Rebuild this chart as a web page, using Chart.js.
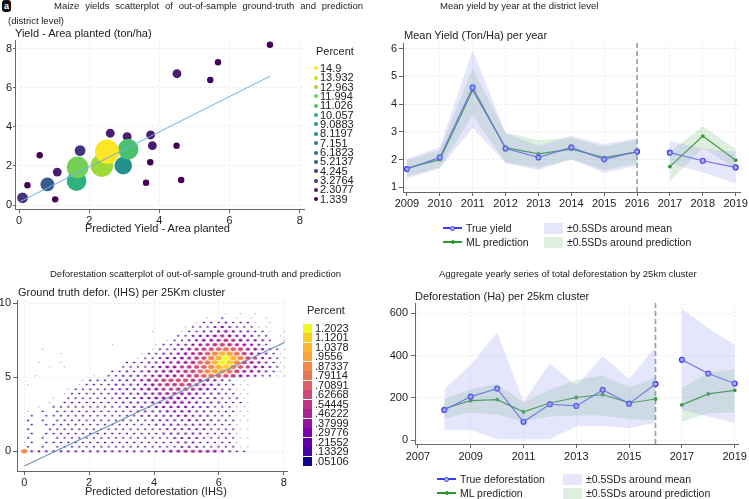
<!DOCTYPE html>
<html>
<head>
<meta charset="utf-8">
<script src="https://cdn.jsdelivr.net/npm/chart.js@4.4.0/dist/chart.umd.min.js"></script>
<style>
body { margin: 0; background: #fff; font-family: "Liberation Sans", Arial, sans-serif; color: #222; }
#wrap { position: relative; width: 749px; height: 499px; overflow: hidden; }
canvas { position: absolute; }
.t { position: absolute; white-space: nowrap; line-height: 1; }
.ttl { font-size: 9.5px; }
.ax { font-size: 11px; }
.lg { font-size: 10.5px; }
.dot { position: absolute; width: 4px; height: 4px; border-radius: 50%; }
.sq { position: absolute; width: 9px; height: 9px; }
</style>
</head>
<body>
<div id="wrap">
  <canvas id="c1" style="left:0;top:0" width="375" height="250"></canvas>
  <canvas id="c2" style="left:375px;top:0" width="374" height="250"></canvas>
  <canvas id="c3" style="left:0;top:250px" width="375" height="249"></canvas>
  <canvas id="c4" style="left:375px;top:250px" width="374" height="249"></canvas>

  <div class="t" style="left:2px;top:0;width:9px;height:12px;background:#111;color:#fff;border-radius:3px;font-size:9px;font-weight:bold;text-align:center;line-height:12px">a</div>
  <div class="t ttl" style="left:54px;top:1px;width:309px;text-align:justify;text-align-last:justify;white-space:normal">Maize yields scatterplot of out-of-sample ground-truth and prediction</div>
  <div class="t ttl" style="left:8px;top:16px">(district level)</div>
  <div class="t ax" style="left:15px;top:28px">Yield - Area planted (ton/ha)</div>
  <div class="t ax" style="left:85px;top:223px">Predicted Yield - Area planted</div>
  <div class="t ax" style="left:316px;top:46px">Percent</div>

  <div class="t ttl" style="left:440px;top:1px">Mean yield by year at the district level</div>
  <div class="t ax" style="left:404px;top:30px">Mean Yield (Ton/Ha) per year</div>

  <div class="t ttl" style="left:50px;top:269px">Deforestation scatterplot of out-of-sample ground-truth and prediction</div>
  <div class="t ax" style="left:18px;top:287px">Ground truth defor. (IHS) per 25Km cluster</div>
  <div class="t ax" style="left:85px;top:486px">Predicted deforestation (IHS)</div>
  <div class="t ax" style="left:307px;top:305px">Percent</div>

  <div class="t ttl" style="left:439px;top:269px">Aggregate yearly series of total deforestation by 25km cluster</div>
  <div class="t ax" style="left:415px;top:291px">Deforestation (Ha) per 25km cluster</div>
</div>
<script>
// ---------- panel a: maize yield bubbles ----------
const yldPredX = [7.15,5.67,5.45,4.49,0.59,3.74,0.24,3.62,4.62,1.03, 4.50,2.60,3.08,3.75,3.80,1.09, 1.74,0.10, 0.81, 2.97, 1.64, 3.11, 1.67, 2.36, 2.51];
const yldTrueY = [8.22,7.32,6.41,3.04,2.55,2.19,1.01,1.14,1.28,0.29, 6.73,3.68,3.50,3.59,3.04,1.69, 2.79,0.37, 1.06, 2.02, 1.23, 2.86, 1.93, 2.02, 2.73];
const yldPct   = [1.339,1.339,1.339,1.339,1.339,1.339,1.339,1.339,1.339,1.339,
                  2.3077,2.3077,2.3077,2.3077,2.3077,2.3077, 3.2764,3.2764, 5.2137, 8.1197, 10.057, 11.026, 11.994, 12.963, 14.9];
const yldFitX = [0.03, 7.15];
const yldFitY = [0.17, 6.60];
const yldLevels = [14.9,13.932,12.963,11.994,11.026,10.057,9.0883,8.1197,7.151,6.1823,5.2137,4.245,3.2764,2.3077,1.339];
const yldLevelLabels = ["14.9","13.932","12.963","11.994","11.026","10.057","9.0883","8.1197","7.151","6.1823","5.2137","4.245","3.2764","2.3077","1.339"];
const yldColors = ["#fde725","#d0e11c","#a0da39","#73d056","#4ac16d","#2db27d","#1fa187","#21918c","#277f8e","#2e6e8e","#365c8d","#3f4788","#46327e","#481c6e","#440154"];

// ---------- panel b: mean yield by year ----------
const yrsYield  = [2009,2010,2011,2012,2013,2014,2015,2016,2017,2018,2019];
const trueYield = [1.66,2.08,4.60,2.40,2.08,2.44,2.01,2.29,2.25,1.96,1.72];
const mlYield   = [1.70,2.00,4.50,2.43,2.21,2.38,2.07,2.28,1.75,2.85,1.98];
const trueYHi   = [2.03,2.45,5.94,2.95,2.50,2.85,2.55,2.78,2.67,2.40,2.28];
const trueYLo   = [1.32,1.69,3.15,1.87,1.63,2.02,1.52,1.78,1.85,1.55,1.15];
const mlYHi     = [1.98,2.35,5.27,2.98,2.70,2.78,2.47,2.72,2.28,3.20,2.38];
const mlYLo     = [1.40,1.72,3.60,1.90,1.72,2.00,1.63,1.86,1.22,2.42,1.68];

// ---------- panel c: deforestation hexbin (levels 1..f = legend bins, . = empty) ----------
// one string per bin row from y=0 upwards, blocks of 5 bins separated by spaces
const hexDx = 0.226, hexDy = 0.3;   // bin grid in IHS units, odd rows shifted half a bin
const hexRows = [
  "b3333 33333 33333 33334 55666 65432 2",
  "2.2.2 22222 22222 22222 23332 22221 1",
  "12.22 22222 22222 22222 23332 22221",
  "2.2.2 22222 22222 22222 33332 22221 1",
  ".2.22 22222 22222 22223 33333 22221",
  "2..22 22222 22222 22223 33333 22221 1",
  ".2.22 22222 22222 22233 33333 32221",
  "2.2.2 22222 22222 22333 33433 32221 1",
  ".2.22 22222 22222 23333 34433 32221 1",
  "1.2.2 22222 22222 33334 44433 32221 1",
  "..1.2 22222 22223 33344 44433 32221 1",
  "...1. 22222 22233 33445 55443 33222 1",
  "....1 .2222 22233 34455 55443 33222 1",
  "..... 12222 22333 34456 65543 33221 1",
  "..... .1222 22333 34556 67765 43221 1",
  "1.... ..122 22333 34567 78765 43221 1",
  "..... ...12 22233 34567 88876 54321 1",
  ".1... ....1 .2233 33455 56789 a9875 43221 1",
  "..... ..... ..223 23445 56789 bcca8 65432 1",
  "...1. 1.... ...22 22345 56789 bdeb9 65432 1",
  "..1.. 1.... ....2 22334 45679 adfeb 86432 1",
  "..... ..... ..... 12234 45678 bdfdb 86432 1",
  "..... 1.... ..... .1223 34567 9bdca 75432 11",
  "..1.. ..... ..... ..122 34567 89a98 65432 1",
  "..... ..... ..1.. ...12 23345 67876 5432. 1",
  "..... ..... ..... ....1 22345 56765 4432. 1",
  "..... ..... ..... ..... .2234 45654 4322. 11",
  "..... ..... ..... ..1.. .1223 34543 3221. 1",
  "..... ..... ..... ..... ..122 23432 2211.",
  "..... ..... ..... ..... ...12 22322 21.1.",
  "..... ..... ..... ..... ..... 1.2.1 .1.1.",
  "..... ..... ..... ..... ..... ..1.1 .1..."
];
const defFitX = [0, 8.03];
const defFitY = [-1.0, 7.36];
const defLevelLabels = ["1.2023","1.1201","1.0378",".9556",".87337",".79114",".70891",".62668",".54445",".46222",".37999",".29776",".21552",".13329",".05106"];
const defColors = ["#f0f921","#fccf25","#fdb42f","#fba238","#f48849","#e97557","#dc5e66","#cd4a76","#bd3786","#aa2395","#9512a1","#7e03a8","#6300a7","#4903a0","#0d0887"];

// ---------- panel d: deforestation by year ----------
const yrsDef  = [2008,2009,2010,2011,2012,2013,2014,2015,2016,2017,2018,2019];
const trueDef = [143,206,244,87,170,162,238,173,266,380,315,268];
const mlDef   = [150,187,192,134,176,202,216,176,195,167,219,236];
const trueDHi = [241,356,509,183,362,257,398,288,443,620,529,450];
const trueDLo = [47,49,5,5,5,65,68,57,83,143,112,83];
const mlDHi   = [195,241,266,178,238,285,307,250,294,246,320,335];
const mlDLo   = [104,131,120,90,112,117,117,99,96,88,128,132];

const splitYear = 2016;

Chart.defaults.font.family = "'Liberation Sans', Arial, sans-serif";
Chart.defaults.color = '#222';
Chart.defaults.animation = false;

const meanBand = 'rgba(150,150,240,0.25)';
const predBand = 'rgba(110,180,110,0.22)';
const blue = '#3b3bff', green = '#2e962e';

function axis(min, max, tickVals, size, isY, tickLen, pad) {
  return {
    type: 'linear', min: min, max: max,
    afterBuildTicks: s => { s.ticks = tickVals.map(v => ({value: v})); },
    afterFit: s => { if (isY) s.width = size; else s.height = size; },
    grid: {color: '#ececec', tickColor: '#666', tickLength: tickLen},
    border: {color: '#666', dash: [2, 2]},
    ticks: {font: {size: 11}, padding: pad, maxRotation: 0, autoSkip: false, callback: v => String(v)}
  };
}

const splitLine = {
  id: 'splitLine',
  beforeDatasetsDraw(chart, args, opts) {
    if (opts.at == null) return;
    const a = chart.chartArea, px = chart.scales.x.getPixelForValue(opts.at), ctx = chart.ctx;
    ctx.save();
    ctx.strokeStyle = '#9a9a9a'; ctx.lineWidth = 1.6; ctx.setLineDash([5, 3]);
    ctx.beginPath(); ctx.moveTo(px, a.top); ctx.lineTo(px, a.bottom); ctx.stroke();
    ctx.restore();
  }
};

function pts(xs, ys) {
  const out = [];
  xs.forEach((x, i) => {
    out.push({x: x, y: ys[i]});
    if (x === splitYear) out.push({x: x + 0.5, y: null});
  });
  return out;
}

const basePlugins = {legend: {display: false}, tooltip: {enabled: false}};

// ---- panel a
function yldIdx(p) {
  let best = 0;
  yldLevels.forEach((v, i) => { if (Math.abs(v - p) < Math.abs(yldLevels[best] - p)) best = i; });
  return best;
}
new Chart(document.getElementById('c1'), {
  type: 'scatter',
  data: {datasets: [
    {type: 'line', data: yldFitX.map((x, i) => ({x: x, y: yldFitY[i]})), borderColor: '#6aaee8', borderWidth: 1, pointRadius: 0, order: 0},
    {data: yldPredX.map((x, i) => ({x: x, y: yldTrueY[i], p: yldPct[i]})), order: 1,
     pointRadius: c => c.raw ? 3.3 * Math.sqrt(c.raw.p) - 0.6 : 3,
     backgroundColor: c => c.raw ? yldColors[yldIdx(c.raw.p)] : '#000', borderWidth: 0}
  ]},
  options: {
    responsive: false, events: [],
    layout: {padding: {left: 0, top: 40, right: 71, bottom: 0}},
    plugins: basePlugins,
    scales: {
      x: axis(-0.114, 8.12, [0, 2, 4, 6, 8], 41, false, 4, 1),
      y: axis(-0.205, 8.46, [0, 2, 4, 6, 8], 15, true, 2, 1)
    }
  }
});

// ---- panel b
function seriesCfg(xs, tr, ml, tHi, tLo, mHi, mLo, ax) {
  const band = (d, col, fill) => ({data: pts(xs, d), fill: fill, backgroundColor: col, borderColor: 'rgba(0,0,0,0)', borderWidth: 0, pointRadius: 0});
  return {
    type: 'line',
    data: {datasets: [
      band(tHi, meanBand, '+1'), band(tLo, meanBand, false),
      band(mHi, predBand, '+1'), band(mLo, predBand, false),
      {data: pts(xs, tr), borderColor: 'rgba(70,70,255,0.85)', borderWidth: 1.2, pointRadius: 2.4,
       pointBorderWidth: 1.4, pointBorderColor: blue, pointBackgroundColor: '#b8b8ff'},
      {data: pts(xs, ml), borderColor: green, borderWidth: 1.2, pointRadius: 1.9,
       pointBorderWidth: 0, pointBackgroundColor: green}
    ]},
    options: {
      responsive: false, events: [], spanGaps: false,
      layout: {padding: ax.pad},
      plugins: Object.assign({splitLine: {at: splitYear}}, basePlugins),
      scales: {x: ax.x, y: ax.y}
    },
    plugins: [splitLine]
  };
}

new Chart(document.getElementById('c2'), seriesCfg(yrsYield, trueYield, mlYield, trueYHi, trueYLo, mlYHi, mlYLo, {
  pad: {left: 0, top: 43, right: 7, bottom: 0},
  x: axis(2008.88, 2019.15, yrsYield, 58, false, 4, 1),
  y: axis(0.835, 6.2, [1, 2, 3, 4, 5, 6], 28, true, 4, 2)
}));

// ---- panel c
const hexW = [0, 1.6, 2.2, 2.8, 3.3, 3.8, 4.3, 4.8, 5.2, 5.6, 6, 6.2, 6.4, 6.6, 6.8, 7];
function hexImg(col, w, alpha) {
  const h = w * 0.75, c = document.createElement('canvas');
  c.width = Math.ceil(w) + 1; c.height = Math.ceil(h) + 1;
  const g = c.getContext('2d'), cx = c.width / 2, cy = c.height / 2;
  g.globalAlpha = alpha; g.fillStyle = col; g.beginPath();
  g.moveTo(cx, cy - h / 2); g.lineTo(cx + w / 2, cy - h / 4); g.lineTo(cx + w / 2, cy + h / 4);
  g.lineTo(cx, cy + h / 2); g.lineTo(cx - w / 2, cy + h / 4); g.lineTo(cx - w / 2, cy - h / 4);
  g.closePath(); g.fill();
  return c;
}
const hexImgs = hexW.map((w, lev) => lev ? hexImg(defColors[15 - lev], w, lev === 1 ? 0.45 : 1) : null);
const hexPts = [];
hexRows.forEach((row, i) => {
  row.replace(/ /g, '').split('').forEach((ch, j) => {
    if (ch === '.') return;
    hexPts.push({x: j * hexDx + (i % 2 ? hexDx / 2 : 0), y: i * hexDy, lev: parseInt(ch, 16)});
  });
});
new Chart(document.getElementById('c3'), {
  type: 'scatter',
  data: {datasets: [
    {type: 'line', data: defFitX.map((x, i) => ({x: x, y: defFitY[i]})), borderColor: '#6b93b8', borderWidth: 1.1, pointRadius: 0, order: 0},
    {data: hexPts, order: 1, pointRadius: 3, pointStyle: c => c.raw ? hexImgs[c.raw.lev] : 'circle'}
  ]},
  options: {
    responsive: false, events: [],
    layout: {padding: {left: 0, top: 50, right: 88, bottom: 0}},
    plugins: basePlugins,
    scales: {
      x: axis(-0.225, 8.1, [0, 2, 4, 6, 8], 28, false, 4, 1),
      y: axis(-1.33, 10.22, [0, 5, 10], 17, true, 4, 2)
    }
  }
});

// ---- panel d
new Chart(document.getElementById('c4'), seriesCfg(yrsDef, trueDef, mlDef, trueDHi, trueDLo, mlDHi, mlDLo, {
  pad: {left: 0, top: 53, right: 7, bottom: 0},
  x: axis(2006.89, 2019.15, [2007, 2009, 2011, 2013, 2015, 2017, 2019], 55, false, 4, 2),
  y: axis(-17.5, 648, [0, 200, 400, 600], 40, true, 4, 3)
}));

// ---- legends (html text)
const wrap = document.getElementById('wrap');
function add(html) { wrap.insertAdjacentHTML('beforeend', html); }
yldLevelLabels.forEach((lab, k) => {
  const cy = 68.3 + k * 9.36;
  add('<div class="dot" style="left:314px;top:' + (cy - 2) + 'px;background:' + yldColors[k] + '"></div>');
  add('<div class="t" style="font-size:11px;left:320px;top:' + (cy - 5.5) + 'px">' + lab + '</div>');
});
defLevelLabels.forEach((lab, k) => {
  const cy = 328 + k * 9.5;
  add('<div class="sq" style="left:303px;top:' + (cy - 4.5) + 'px;background:' + defColors[k] + '"></div>');
  add('<div class="t" style="font-size:11px;left:315px;top:' + (cy - 5.5) + 'px">' + lab + '</div>');
});
function lineKey(x, cy, col, fill, r, txt) {
  add('<div style="position:absolute;left:' + x + 'px;top:' + (cy - 0.6) + 'px;width:19px;height:1.2px;background:' + col + '"></div>');
  add('<div style="position:absolute;left:' + (x + 9.5 - r) + 'px;top:' + (cy - r) + 'px;width:' + (2 * r - 2) + 'px;height:' + (2 * r - 2) + 'px;border:1px solid ' + col + ';border-radius:50%;background:' + fill + '"></div>');
  add('<div class="t lg" style="left:' + (x + 23) + 'px;top:' + (cy - 5.5) + 'px">' + txt + '</div>');
}
function boxKey(x, cy, col, txt) {
  add('<div style="position:absolute;left:' + x + 'px;top:' + (cy - 5.5) + 'px;width:19px;height:11px;background:' + col + '"></div>');
  add('<div class="t lg" style="left:' + (x + 23) + 'px;top:' + (cy - 5.5) + 'px">' + txt + '</div>');
}
lineKey(443, 228, blue, '#b8b8ff', 2.5, 'True yield');
lineKey(443, 242, green, green, 2, 'ML prediction');
boxKey(544, 228, meanBand, '±0.5SDs around mean');
boxKey(544, 242, predBand, '±0.5SDs around prediction');
lineKey(437, 479, blue, '#b8b8ff', 2.5, 'True deforestation');
lineKey(437, 493, green, green, 2, 'ML prediction');
boxKey(563, 479, meanBand, '±0.5SDs around mean');
boxKey(563, 493, predBand, '±0.5SDs around prediction');
</script>
</body>
</html>
